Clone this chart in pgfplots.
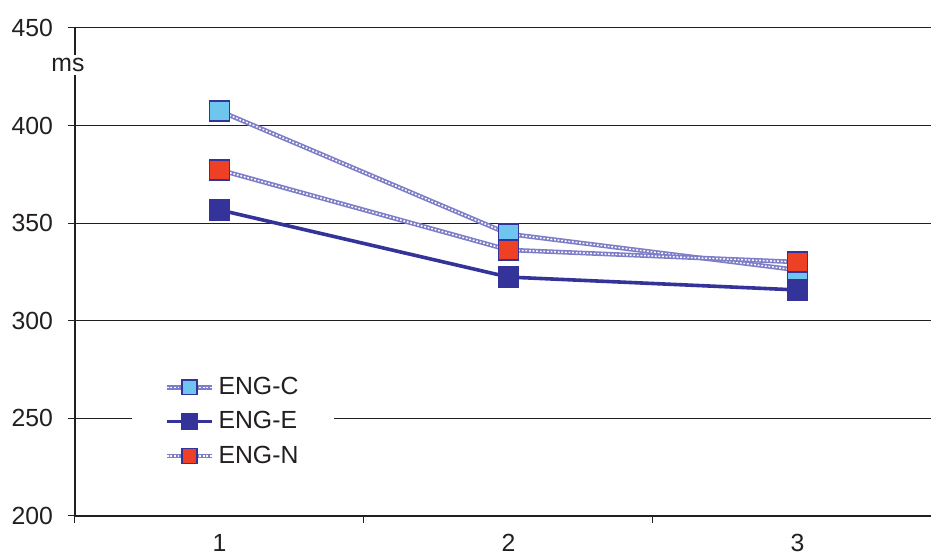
\documentclass[border=0pt]{standalone}
\usepackage{pgfplots}
\pgfplotsset{compat=1.18}
\usepackage{fontspec}
\setmainfont{Liberation Sans}
\definecolor{edark}{RGB}{51,51,153}
\definecolor{cfill}{RGB}{110,198,238}
\definecolor{nfill}{RGB}{238,64,36}
\definecolor{patline}{RGB}{125,125,200}
\definecolor{txt}{RGB}{35,31,32}
\tikzset{patterned/.style={draw=patline, line width=2.3pt,
  postaction={draw=white, line width=0.75pt, dash pattern=on 0.9pt off 0.9pt}}}
\begin{document}
\begin{tikzpicture}
\useasboundingbox (-37.5pt,-19.5pt) rectangle (428pt,258pt);
\begin{axis}[
  name=ax,
  at={(0,0)}, anchor=south west,
  scale only axis,
  width=428pt, height=244pt,
  xmin=0.5, xmax=3.462,
  ymin=200, ymax=450,
  ytick={200,250,...,450},
  xtick={1,2,3},
  minor xtick={0.5,1.5,2.5},
  major x tick style={draw=none},
  minor x tick style={draw=txt, line width=0.5pt},
  minor tick length=3.5pt,
  major tick length=3.5pt,
  tick align=outside,
  ytick style={draw=txt, line width=0.5pt},
  axis x line*=bottom, axis y line*=left,
  axis line style={-, line width=1pt, draw=txt},
  ymajorgrids, grid style={line width=0.5pt, draw=txt},
  tick label style={font=\fontsize{12.4}{14}\selectfont, text=txt},
  xticklabel style={yshift=-2.2pt},
  yticklabel style={xshift=-4pt},
  /pgf/number format/assume math mode=true,
  clip=false,
  legend style={at={(0.0666,0.31)}, anchor=north west, draw=none, fill=white,
    font=\fontsize{12.4}{14}\selectfont, text=txt, inner xsep=16pt, inner ysep=4pt,
    row sep=3pt},
  legend cell align=left,
  legend image code/.code={\draw[mark repeat=2,mark phase=2,#1,mark size=3.7pt] plot coordinates {(0cm,0cm)(0.4cm,0cm)(0.8cm,0cm)};},
]
\addplot[patterned, mark=square*, mark size=5pt,
  mark options={solid, draw=edark, fill=cfill, line width=0.8pt, postaction={}}]
  coordinates {(1,407.5) (2,344.5) (3,326)};
\addlegendentry{ENG-C}
\addplot[draw=edark, line width=1.8pt, mark=square*, mark size=5pt,
  mark options={draw=edark, fill=edark, line width=0.8pt}]
  coordinates {(1,356.8) (2,322.4) (3,315.8)};
\addlegendentry{ENG-E}
\addplot[patterned, mark=square*, mark size=5pt,
  mark options={solid, draw=edark, fill=nfill, line width=0.8pt, postaction={}}]
  coordinates {(1,377.3) (2,336.3) (3,330.1)};
\addlegendentry{ENG-N}
\end{axis}
\node[fill=white, inner sep=1.5pt, font=\fontsize{12.4}{14}\selectfont, text=txt] at ([xshift=-3.5pt,yshift=-18.5pt]ax.north west) {ms};
\end{tikzpicture}
\end{document}
